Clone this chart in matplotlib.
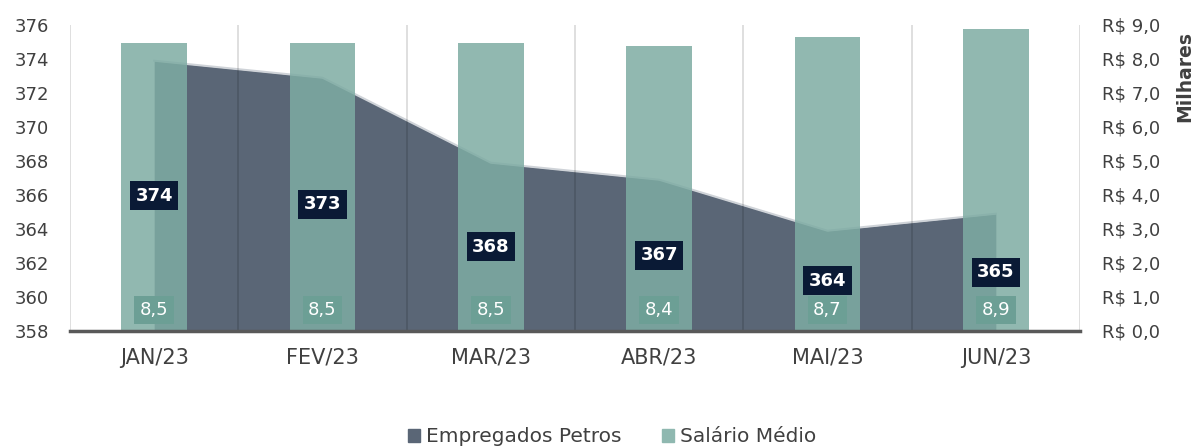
import matplotlib.pyplot as plt
from matplotlib.patches import Patch
import numpy as np

plt.rcParams['font.family'] = 'DejaVu Sans'

meses = ['JAN/23', 'FEV/23', 'MAR/23', 'ABR/23', 'MAI/23', 'JUN/23']
empregados = [373.9, 372.9, 367.9, 366.9, 363.9, 364.9]
salario = [8.48, 8.47, 8.46, 8.38, 8.66, 8.88]

cor_area = '#5a6676'
cor_barra = '#7eaca3'
cor_legenda_barra = '#8fb8b0'
cor_texto = '#404040'

fig = plt.figure(figsize=(11.97, 4.47), dpi=100)
ax = fig.add_axes([70 / 1197, 1 - 331 / 447, 1010 / 1197, 306 / 447])
ax2 = ax.twinx()

x = np.arange(len(meses))
base = 358

# area (empregados) on the left axis
ax.fill_between(x, base, empregados, color=cor_area, lw=0, zorder=1)
ax.plot(x, empregados, color='#cfd3d8', lw=1.5, zorder=2)

# vertical lines between categories
for b in np.arange(-0.5, len(meses), 1):
    ax.axvline(b, color='black', alpha=0.15, lw=1.2, zorder=3)

ax.set_xlim(-0.5, len(meses) - 0.5)
ax.set_ylim(358, 376)
ax.set_yticks(np.arange(358, 377, 2))
ax.set_xticks(x)
ax.set_xticklabels(meses)

# bars (salario) on the right axis
ax2.bar(x, salario, width=0.39, color=cor_barra, alpha=0.85, zorder=2)
ax2.set_ylim(0, 9)
ax2.set_yticks(np.arange(0, 9.1, 1))
ax2.set_yticklabels(['R$ ' + f'{v:.1f}'.replace('.', ',') for v in np.arange(0, 9.1, 1)])

for a in (ax, ax2):
    for s in ('top', 'left', 'right', 'bottom'):
        a.spines[s].set_visible(False)
    a.tick_params(length=0, labelsize=13, colors=cor_texto)
ax.tick_params(axis='y', pad=15)
ax.tick_params(axis='x', pad=12, labelsize=15)
ax2.tick_params(axis='y', pad=16)

ax2.axhline(0, color='#595959', lw=2.5, zorder=5, clip_on=False)

# labels
for xi, v in zip(x, empregados):
    ax2.text(xi, (base + v) / 2, f'{v:.0f}', ha='center', va='center',
             fontsize=13, color='white', fontweight='bold', zorder=6,
             transform=ax.transData,
             bbox=dict(boxstyle='square,pad=0.3', fc='#0a1a35', ec='none'))

for xi, v in zip(x, salario):
    ax2.text(xi, 0.62, f'{v:.1f}'.replace('.', ','), ha='center', va='center',
             fontsize=13, color='white', zorder=7,
             bbox=dict(boxstyle='square,pad=0.3', fc='#6c9f95', ec='none'))

fig.text(1185 / 1197, 1 - 77 / 447, 'Milhares', rotation=90, ha='center', va='center',
         fontsize=13.5, fontweight='bold', color=cor_texto)

handles = [Patch(color=cor_area, label='Empregados Petros'),
           Patch(color=cor_legenda_barra, label='Salário Médio')]
fig.legend(handles=handles, loc='center', bbox_to_anchor=(612 / 1197, 1 - 437 / 447),
           ncol=2, frameon=False, fontsize=14.5, handlelength=0.6, handleheight=0.6,
           handletextpad=0.3, columnspacing=2.0, labelcolor=cor_texto)

fig.savefig('out.png', dpi=100)
